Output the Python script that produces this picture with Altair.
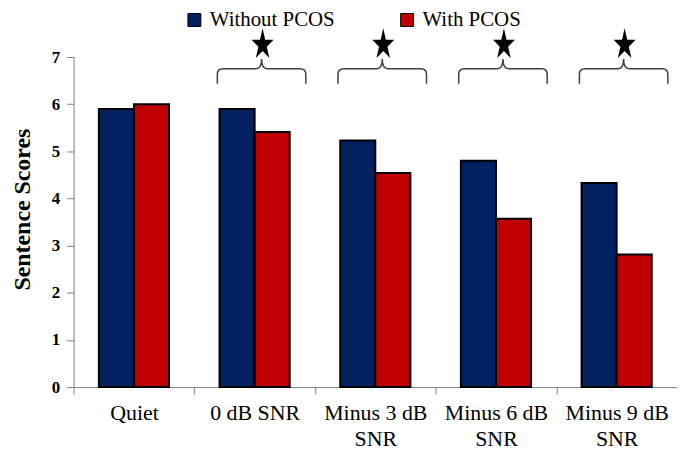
import pandas as pd
import altair as alt

# data
categories = ["Quiet", "0 dB SNR", "Minus 3 dB SNR", "Minus 6 dB SNR", "Minus 9 dB SNR"]
groups = ["Without PCOS", "With PCOS"]
without_pcos = [5.9, 5.9, 5.23, 4.8, 4.33]
with_pcos = [6.0, 5.41, 4.54, 3.57, 2.81]
significant = ["0 dB SNR", "Minus 3 dB SNR", "Minus 6 dB SNR", "Minus 9 dB SNR"]
y_ticks = [0, 1, 2, 3, 4, 5, 6, 7]
colors = ["#002060", "#C00000"]

serif = "Liberation Serif, Times New Roman, serif"

bars_df = pd.DataFrame({
    "cond": categories * 2,
    "group": [groups[0]] * len(categories) + [groups[1]] * len(categories),
    "score": without_pcos + with_pcos,
})

# brace and star sit above the significant conditions
brace_level = 6.75
star_level = 7.26
sig_df = pd.DataFrame({"cond": significant,
                       "brace": [brace_level] * len(significant),
                       "star": [star_level] * len(significant)})

brace_path = ("M-1,0.34 L-1,0.13 Q-1,0 -0.87,0 L-0.13,0 Q0,0 0,-0.22 "
              "Q0,0 0.13,0 L0.87,0 Q1,0 1,0.13 L1,0.34")
star_path = ("M0,-1 L0.157,-0.309 L0.666,-0.309 L0.254,0.118 L0.41,0.809 "
             "L0,0.382 L-0.41,0.809 L-0.254,0.118 L-0.666,-0.309 L-0.157,-0.309 Z")

x_enc = alt.X("cond:N", sort=categories, title=None,
              scale=alt.Scale(paddingInner=0, paddingOuter=0),
              axis=alt.Axis(labelAngle=0, tickBand="extent", tickSize=7,
                            labelFont=serif, labelFontSize=22, labelColor="black",
                            labelPadding=9, labelLineHeight=26,
                            domainColor="#808080", tickColor="#808080",
                            labelExpr="indexof(datum.label, 'Minus') == 0 ? "
                                      "[replace(datum.label, ' SNR', ''), 'SNR'] : datum.label"))

bars = alt.Chart(bars_df).mark_bar(stroke="black", strokeWidth=2).encode(
    x=x_enc,
    xOffset=alt.XOffset("group:N", sort=groups,
                        scale=alt.Scale(paddingInner=0, paddingOuter=0.72)),
    y=alt.Y("score:Q", title="Sentence Scores",
            scale=alt.Scale(domain=[0, 7], nice=False),
            axis=alt.Axis(values=y_ticks, grid=False, tickSize=7,
                          labelFont=serif, labelFontSize=17, labelFontWeight="bold",
                          labelColor="black", labelPadding=7,
                          domainColor="#808080", tickColor="#808080",
                          titleFont=serif, titleFontSize=24, titleFontWeight="bold",
                          titleColor="black", titleAngle=-90, titleAlign="center",
                          titleBaseline="alphabetic", titleX=-44, titleY=153)),
    color=alt.Color("group:N", sort=groups,
                    scale=alt.Scale(domain=groups, range=colors),
                    legend=alt.Legend(title=None, orient="none", legendX=111, legendY=-48,
                                      direction="horizontal", symbolType="square",
                                      symbolSize=169, symbolStrokeColor="black",
                                      symbolStrokeWidth=1, symbolOpacity=1,
                                      labelFont=serif, labelFontSize=21,
                                      labelColor="black", labelOffset=5,
                                      columnPadding=62)),
)

braces = alt.Chart(sig_df).mark_point(
    shape=brace_path, size=7921, filled=False, stroke="#404040",
    strokeWidth=1.5, opacity=1, xOffset=7
).encode(x=alt.X("cond:N", sort=categories), y="brace:Q")

stars = alt.Chart(sig_df).mark_point(
    shape=star_path, size=1100, filled=True, fill="black", strokeWidth=0,
    opacity=1, xOffset=8
).encode(x=alt.X("cond:N", sort=categories), y="star:Q")

chart = alt.layer(bars, braces, stars).properties(
    width=607, height=332,
    autosize=alt.AutoSizeParams(type="none"),
    padding={"left": 66, "top": 48, "right": 0, "bottom": 64},
    background="white",
).configure_view(stroke=None)

chart.save("out.html", embed_options={"renderer": "svg", "actions": False})
